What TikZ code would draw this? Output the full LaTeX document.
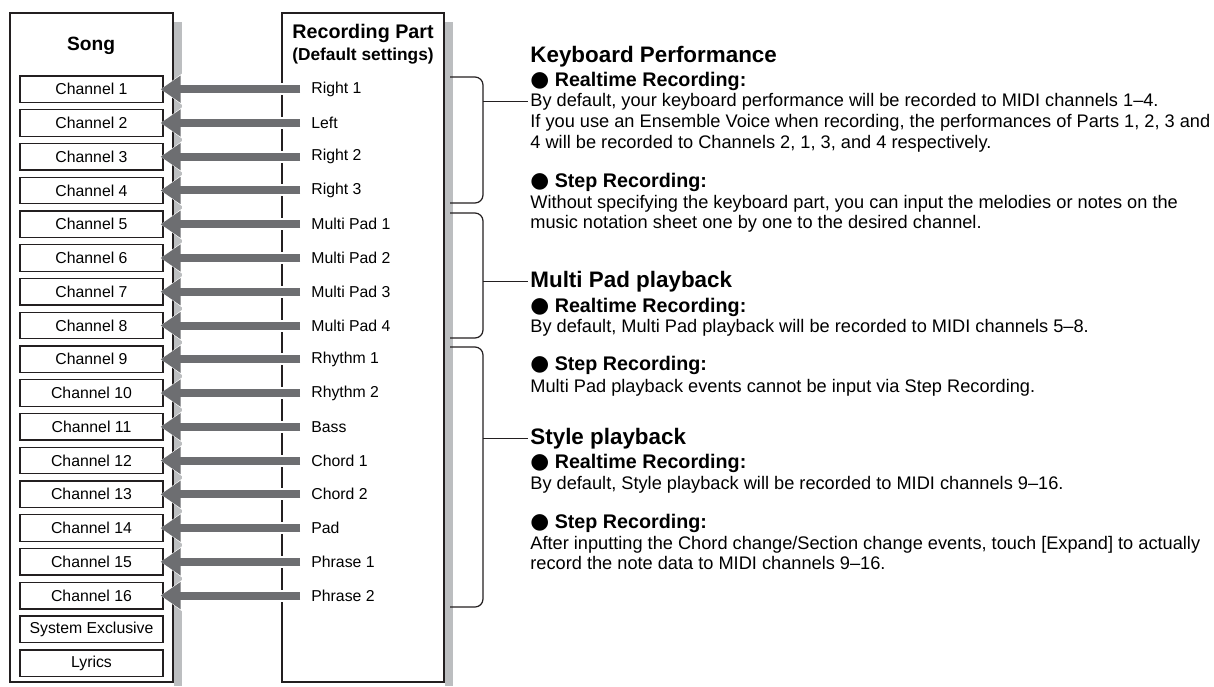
\documentclass[tikz,border=0pt]{standalone}
\usepackage{fontspec}
\setmainfont{Liberation Sans}
\newfontfamily\bulletfont[Scale=1.1]{DejaVu Sans}
\newcommand{\blob}{{\bulletfont ●}}
\usetikzlibrary{arrows.meta}
\usepackage{xcolor}
\definecolor{Ink}{HTML}{231F20}
\definecolor{ArrowGrey}{HTML}{6D6E71}
\definecolor{ShadeGrey}{HTML}{BCBEC0}

\begin{document}
\begin{tikzpicture}[x=0.5pt,y=-0.5pt,
    chan/.style={draw=Ink,line width=0.65pt,minimum width=71.5pt,
      minimum height=13.25pt,inner sep=0pt,font=\fontsize{7.9}{9}\selectfont},
    part/.style={anchor=west,inner xsep=5.5pt,inner ysep=0pt,
      font=\fontsize{7.9}{9}\selectfont},
    halo/.style={draw=white,line width=6pt,shorten >=-1.5pt,
      -{Triangle[length=11.5pt,width=16pt]}},
    feed/.style={draw=ArrowGrey,line width=4pt,shorten >=-1.5pt,
      -{Triangle[length=10pt,width=13pt]}},
    grouptitle/.style={anchor=base west,inner xsep=1pt,font=\fontsize{11.2}{13}\bfseries},
    bullet/.style={anchor=base west,inner xsep=1pt,font=\fontsize{9.85}{12}\bfseries},
    body/.style={anchor=base west,inner xsep=1pt,font=\fontsize{9.1}{11}\selectfont},
    brace/.style={draw=Ink,line width=0.6pt,rounded corners=4pt}]
  \useasboundingbox (0,0) rectangle (1214,686);

  % shadows and frames
  \fill[ShadeGrey] (174,22) rectangle (182,686);
  \fill[ShadeGrey] (445,22) rectangle (453,686);
  \draw[Ink,line width=1pt,fill=white] (10,13) rectangle (173,682);
  \draw[Ink,line width=1pt,fill=white] (282,13) rectangle (444,682);

  \node[font=\fontsize{9.6}{11}\bfseries] (song) at (91,46) {Song};
  \node[font=\fontsize{9.85}{12}\bfseries] (rec) at (363,33) {Recording Part};
  \node[font=\fontsize{8.65}{10}\bfseries] (recdef) at (363,56) {(Default settings)};

  % channels and parts
  \foreach \i/\p in {1/Right 1,2/Left,3/Right 2,4/Right 3,5/Multi Pad 1,
      6/Multi Pad 2,7/Multi Pad 3,8/Multi Pad 4,9/Rhythm 1,10/Rhythm 2,
      11/Bass,12/Chord 1,13/Chord 2,14/Pad,15/Phrase 1,16/Phrase 2}{
    \node[chan] (ch\i) at (91.5,{89.2+(\i-1)*33.76}) {Channel \i};
    \node[part] (p\i) at (300,{89.2+(\i-1)*33.76}) {\p};
  }
  \node[chan] (sysex) at (91.5,{89.2+16*33.76}) {System Exclusive};
  \node[chan] (lyrics) at (91.5,{89.2+17*33.76}) {Lyrics};

  \foreach \i in {1,...,16}{
    \draw[halo] (p\i.west) -- (ch\i.east);
    \draw[feed] (p\i.west) -- (ch\i.east);
  }

  % text on the right
  \node[grouptitle] (kb) at (528,62) {Keyboard Performance};
  \node[bullet] (kbrt) at (528,86) {\blob\ Realtime Recording:};
  \node[body] (kbrt1) at (528,106) {By default, your keyboard performance will be recorded to MIDI channels 1–4.};
  \node[body] (kbrt2) at (528,127) {If you use an Ensemble Voice when recording, the performances of Parts 1, 2, 3 and};
  \node[body] (kbrt3) at (528,148) {4 will be recorded to Channels 2, 1, 3, and 4 respectively.};
  \node[bullet] (kbst) at (528,187) {\blob\ Step Recording:};
  \node[body] (kbst1) at (528,208) {Without specifying the keyboard part, you can input the melodies or notes on the};
  \node[body] (kbst2) at (528,228) {music notation sheet one by one to the desired channel.};

  \node[grouptitle] (mp) at (528,287) {Multi Pad playback};
  \node[bullet] (mprt) at (528,312) {\blob\ Realtime Recording:};
  \node[body] (mprt1) at (528,332) {By default, Multi Pad playback will be recorded to MIDI channels 5–8.};
  \node[bullet] (mpst) at (528,370) {\blob\ Step Recording:};
  \node[body] (mpst1) at (528,392) {Multi Pad playback events cannot be input via Step Recording.};

  \node[grouptitle] (sty) at (528,444) {Style playback};
  \node[bullet] (styrt) at (528,468) {\blob\ Realtime Recording:};
  \node[body] (styrt1) at (528,489) {By default, Style playback will be recorded to MIDI channels 9–16.};
  \node[bullet] (styst) at (528,528) {\blob\ Step Recording:};
  \node[body] (styst1) at (528,549) {After inputting the Chord change/Section change events, touch [Expand] to actually};
  \node[body] (styst2) at (528,569) {record the note data to MIDI channels 9–16.};

  % braces
  \coordinate (brA) at (483,140);
  \coordinate (brB) at (483,275);
  \coordinate (brC) at (483,477);
  \draw[brace] (450,77) -- (brA |- 0,77) -- (brA |- 0,203) -- (450,203);
  \draw[brace] (450,213) -- (brB |- 0,213) -- (brB |- 0,338) -- (450,338);
  \draw[brace] (450,347) -- (brC |- 0,347) -- (brC |- 0,607) -- (450,607);
  \draw[brace] (brA |- kbrt1.west) -- (kbrt1.west);
  \draw[brace] (brB |- mp.west) -- (mp.west);
  \draw[brace] (brC |- sty.west) -- (sty.west);
\end{tikzpicture}
\end{document}
